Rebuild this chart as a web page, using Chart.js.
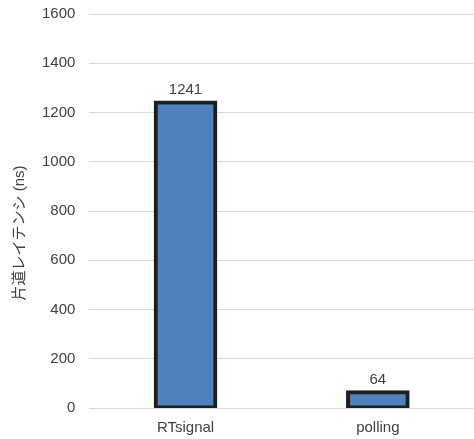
<!DOCTYPE html>
<html>
<head>
<meta charset="utf-8">
<script src="https://cdn.jsdelivr.net/npm/chart.js@4"></script>
<style>
  html, body { margin: 0; padding: 0; background: #fff; }
  #wrap { width: 474px; height: 439px; }
</style>
</head>
<body>
<div id="wrap"><canvas id="latencyChart" width="474" height="439"></canvas></div>
<script>
// data
const categories = ['RTsignal', 'polling'];
const latencyNs = [1241, 64];
const yTicks = [0, 200, 400, 600, 800, 1000, 1200, 1400, 1600];
const yTitle = '片道レイテンシ (ns)';

const textColor = '#404040';
const fontFamily = '"Liberation Sans", Arial, "Noto Sans CJK JP", sans-serif';
const fontSize = 15;

// value labels above each bar
const valueLabels = {
    id: 'valueLabels',
    afterDatasetsDraw(chart) {
        const ctx = chart.ctx;
        const meta = chart.getDatasetMeta(0);
        ctx.save();
        ctx.font = fontSize + 'px ' + fontFamily;
        ctx.fillStyle = textColor;
        ctx.textAlign = 'center';
        ctx.textBaseline = 'bottom';
        meta.data.forEach(function (bar, i) {
            ctx.fillText(String(latencyNs[i]), bar.x, bar.y - 5);
        });
        ctx.restore();
    }
};

// rotated y axis title, placed like the original
const axisTitle = {
    id: 'axisTitle',
    afterDraw(chart) {
        const ctx = chart.ctx;
        const area = chart.chartArea;
        ctx.save();
        ctx.translate(20, (area.top + area.bottom) / 2 + 22);
        ctx.rotate(-Math.PI / 2);
        ctx.font = fontSize + 'px ' + fontFamily;
        ctx.fillStyle = textColor;
        ctx.textAlign = 'center';
        ctx.textBaseline = 'middle';
        ctx.fillText(yTitle, 0, 0);
        ctx.restore();
    }
};

new Chart(document.getElementById('latencyChart'), {
    type: 'bar',
    data: {
        labels: categories,
        datasets: [{
            data: latencyNs,
            backgroundColor: '#4f81bd',
            borderColor: '#1e1e1e',
            borderWidth: 4,
            borderSkipped: false,
            inflateAmount: 2,
            barPercentage: 0.31,
            categoryPercentage: 1
        }]
    },
    options: {
        responsive: false,
        animation: false,
        layout: { padding: { left: 37, top: 0, right: 0, bottom: -9 } },
        plugins: {
            legend: { display: false },
            tooltip: { enabled: false }
        },
        scales: {
            x: {
                grid: { display: false, drawTicks: false },
                border: { display: false },
                ticks: { color: textColor, font: { size: fontSize, family: fontFamily }, padding: 11 }
            },
            y: {
                min: yTicks[0],
                max: yTicks[yTicks.length - 1],
                afterBuildTicks(scale) {
                    scale.ticks = yTicks.map(function (v) { return { value: v }; });
                },
                grid: { color: '#d9d9d9', lineWidth: 1, drawTicks: true, tickLength: 9, tickColor: 'rgba(0,0,0,0)' },
                border: { display: false },
                ticks: {
                    color: textColor,
                    font: { size: fontSize, family: fontFamily },
                    padding: 5,
                    callback: function (v) { return String(v); }
                }
            }
        }
    },
    plugins: [valueLabels, axisTitle]
});
</script>
</body>
</html>
